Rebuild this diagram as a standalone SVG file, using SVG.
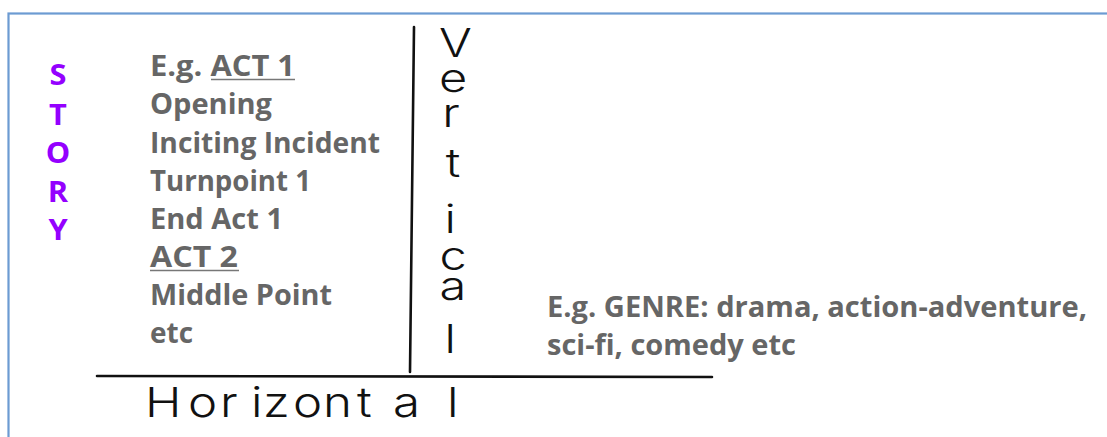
<svg xmlns="http://www.w3.org/2000/svg" width="1107" height="437" viewBox="0 0 1107 437">
<style>
.story{font-family:"Open Sans","Liberation Sans",sans-serif;font-weight:700;font-size:28px;fill:#9400ff;text-anchor:middle}
.g{font-family:"Open Sans","Liberation Sans",sans-serif;font-weight:700;font-size:28px;fill:#666666}
.ul{stroke:#777777;stroke-width:1.6}
.hand{font-family:Inter,Roboto,"DejaVu Sans",sans-serif;font-weight:300;fill:#111111}
.ink{stroke:#111111;stroke-width:2.6;stroke-linecap:round;fill:none}
</style>
<rect x="8.5" y="13.5" width="1110" height="440" fill="#ffffff" stroke="#6c9bd2" stroke-width="2.2"/>
<g id="story">
<text class="story" x="58" y="85" transform="translate(58,0) scale(1.1,1) translate(-58,0)">S</text>
<text class="story" x="58" y="125" transform="translate(58,0) scale(1.1,1) translate(-58,0)">T</text>
<text class="story" x="58" y="163" transform="translate(58,0) scale(1.1,1) translate(-58,0)">O</text>
<text class="story" x="58" y="202" transform="translate(58,0) scale(1.1,1) translate(-58,0)">R</text>
<text class="story" x="58" y="240" transform="translate(58,0) scale(1.1,1) translate(-58,0)">Y</text>
</g>
<g id="acts">
<text class="g" x="150" y="76" textLength="145" lengthAdjust="spacingAndGlyphs">E.g. ACT 1</text>
<line class="ul" x1="211" y1="79.5" x2="295" y2="79.5"/>
<text class="g" x="150" y="114" textLength="122" lengthAdjust="spacingAndGlyphs">Opening</text>
<text class="g" x="150" y="152.5" textLength="230" lengthAdjust="spacingAndGlyphs">Inciting Incident</text>
<text class="g" x="150" y="190.5" textLength="161" lengthAdjust="spacingAndGlyphs">Turnpoint 1</text>
<text class="g" x="150" y="228.5" textLength="133" lengthAdjust="spacingAndGlyphs">End Act 1</text>
<text class="g" x="150" y="267" textLength="88" lengthAdjust="spacingAndGlyphs">ACT 2</text>
<line class="ul" x1="150" y1="270.5" x2="239" y2="270.5"/>
<text class="g" x="150" y="305" textLength="182" lengthAdjust="spacingAndGlyphs">Middle Point</text>
<text class="g" x="150" y="343" textLength="43" lengthAdjust="spacingAndGlyphs">etc</text>
</g>
<g id="genre">
<text class="g" x="547" y="317" textLength="540" lengthAdjust="spacingAndGlyphs">E.g. GENRE: drama, action-adventure,</text>
<text class="g" x="547" y="355" textLength="249" lengthAdjust="spacingAndGlyphs">sci-fi, comedy etc</text>
</g>
<g id="connectors">
<line class="ink" x1="414" y1="27" x2="410" y2="372"/>
<line class="ink" x1="97" y1="376" x2="712" y2="377"/>
</g>
<g id="vertical-label" class="hand">
<text transform="translate(453,0) scale(1.25,1)" text-anchor="middle" font-size="39" x="2 0 -1.5 0 -2.3 0 0 -2.3" y="57 92 127 177 233 270 300 353">Vertical</text>
</g>
<g id="horizontal-label" class="hand">
<text transform="scale(1.2,1)" x="120.8 156.7 183.3 209.2 219.2 244.2 269.2 297.5 327.5 372.5" y="417" font-size="41">Horizontal</text>
</g>
</svg>
